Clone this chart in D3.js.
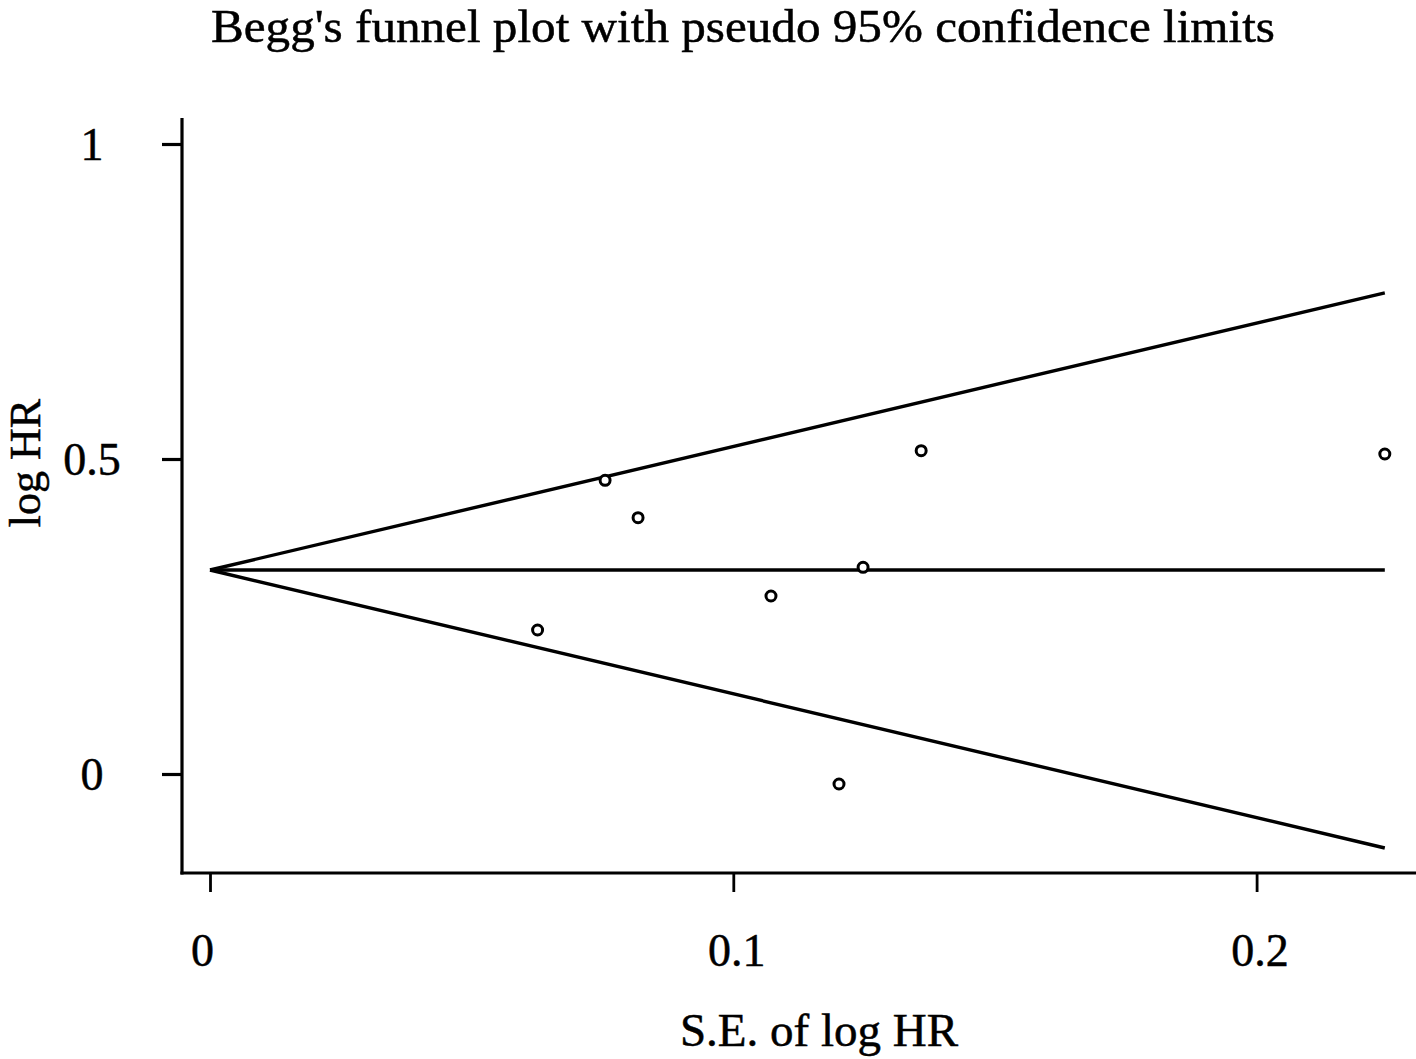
<!DOCTYPE html>
<html>
<head>
<meta charset="utf-8">
<script src="https://cdn.jsdelivr.net/npm/d3@7.9.0/dist/d3.min.js"></script>
<style>
  html, body { margin: 0; padding: 0; background: #fff; }
  svg { display: block; font-family: 'Liberation Serif', 'Times New Roman', serif; }
  text { fill: #000; stroke: #000; stroke-width: 0.5px; }
</style>
</head>
<body>
<svg id="chart" width="1416" height="1059"></svg>
<script>
// study estimates
const seLogHR = [0.0626, 0.0755, 0.0818, 0.1072, 0.1202, 0.1248, 0.1359, 0.2245];
const logHR   = [0.2286, 0.4662, 0.4068, 0.2825, -0.0159, 0.3281, 0.5132, 0.5079];

// pooled estimate line and pseudo 95% limits (end points)
const limitSE    = [0, 0.2245];
const pooled     = [0.3238, 0.3238];
const upperLimit = [0.3238, 0.7638];
const lowerLimit = [0.3238, -0.1175];

const xTicks = [0, 0.1, 0.2];
const yTicks = [0, 0.5, 1];

const svg = d3.select('#chart');
const FONT = 46;

// x: 0 -> 210px, 0.1 -> 733.3px ; y: 0 -> 774px, 1 -> 144px
const x = d3.scaleLinear().domain([0, 0.2]).range([210, 1256.6]);
const y = d3.scaleLinear().domain([0, 1]).range([774, 144]);

const axisX = 182, axisY = 873;

// axis lines
svg.append('line')
   .attr('x1', axisX).attr('x2', axisX)
   .attr('y1', 118).attr('y2', axisY + 1.5)
   .attr('stroke', '#000').attr('stroke-width', 3.2);
svg.append('line')
   .attr('x1', axisX - 1.6).attr('x2', 1416)
   .attr('y1', axisY).attr('y2', axisY)
   .attr('stroke', '#000').attr('stroke-width', 3.2);

// x axis
const gx = svg.append('g').attr('transform', `translate(0,${axisY})`)
  .call(d3.axisBottom(x).tickValues(xTicks).tickSize(19).tickFormat(d3.format('')));
gx.select('.domain').remove();
gx.selectAll('.tick line').attr('stroke', '#000').attr('stroke-width', 2.8);
gx.selectAll('.tick text')
  .attr('y', 93).attr('dy', null)
  .attr('dx', d => d === 0 ? -8 : 3)
  .style('font-family', 'Liberation Serif, serif')
  .style('font-size', FONT + 'px');

// y axis
const gy = svg.append('g').attr('transform', `translate(${axisX},0)`)
  .call(d3.axisLeft(y).tickValues(yTicks).tickSize(20).tickFormat(d3.format('')));
gy.select('.domain').remove();
gy.selectAll('.tick line').attr('stroke', '#000').attr('stroke-width', 3.2);
gy.selectAll('.tick text')
  .attr('x', -90).attr('dy', 15)
  .attr('text-anchor', 'middle')
  .style('font-family', 'Liberation Serif, serif')
  .style('font-size', FONT + 'px');

// funnel lines
const line = d3.line().x(d => x(d[0])).y(d => y(d[1]));
[pooled, upperLimit, lowerLimit].forEach(arr => {
  svg.append('path')
     .datum(limitSE.map((s, i) => [s, arr[i]]))
     .attr('d', line)
     .attr('fill', 'none')
     .attr('stroke', '#000')
     .attr('stroke-width', 3.4);
});

// study points
svg.append('g').selectAll('circle')
   .data(seLogHR.map((s, i) => [s, logHR[i]]))
   .enter().append('circle')
     .attr('cx', d => x(d[0]))
     .attr('cy', d => y(d[1]))
     .attr('r', 5)
     .attr('fill', '#fff')
     .attr('stroke', '#000')
     .attr('stroke-width', 3);

// titles
svg.append('text')
   .attr('x', 743).attr('y', 42)
   .attr('text-anchor', 'middle')
   .attr('textLength', 1064)
   .attr('lengthAdjust', 'spacingAndGlyphs')
   .style('font-size', '47px')
   .text("Begg's funnel plot with pseudo 95% confidence limits");

svg.append('text')
   .attr('x', 819).attr('y', 1046)
   .attr('text-anchor', 'middle')
   .style('font-size', '47px')
   .text('S.E. of log HR');

svg.append('text')
   .attr('transform', 'translate(40,463) rotate(-90)')
   .attr('text-anchor', 'middle')
   .style('font-size', '44px')
   .text('log HR');
</script>
</body>
</html>
